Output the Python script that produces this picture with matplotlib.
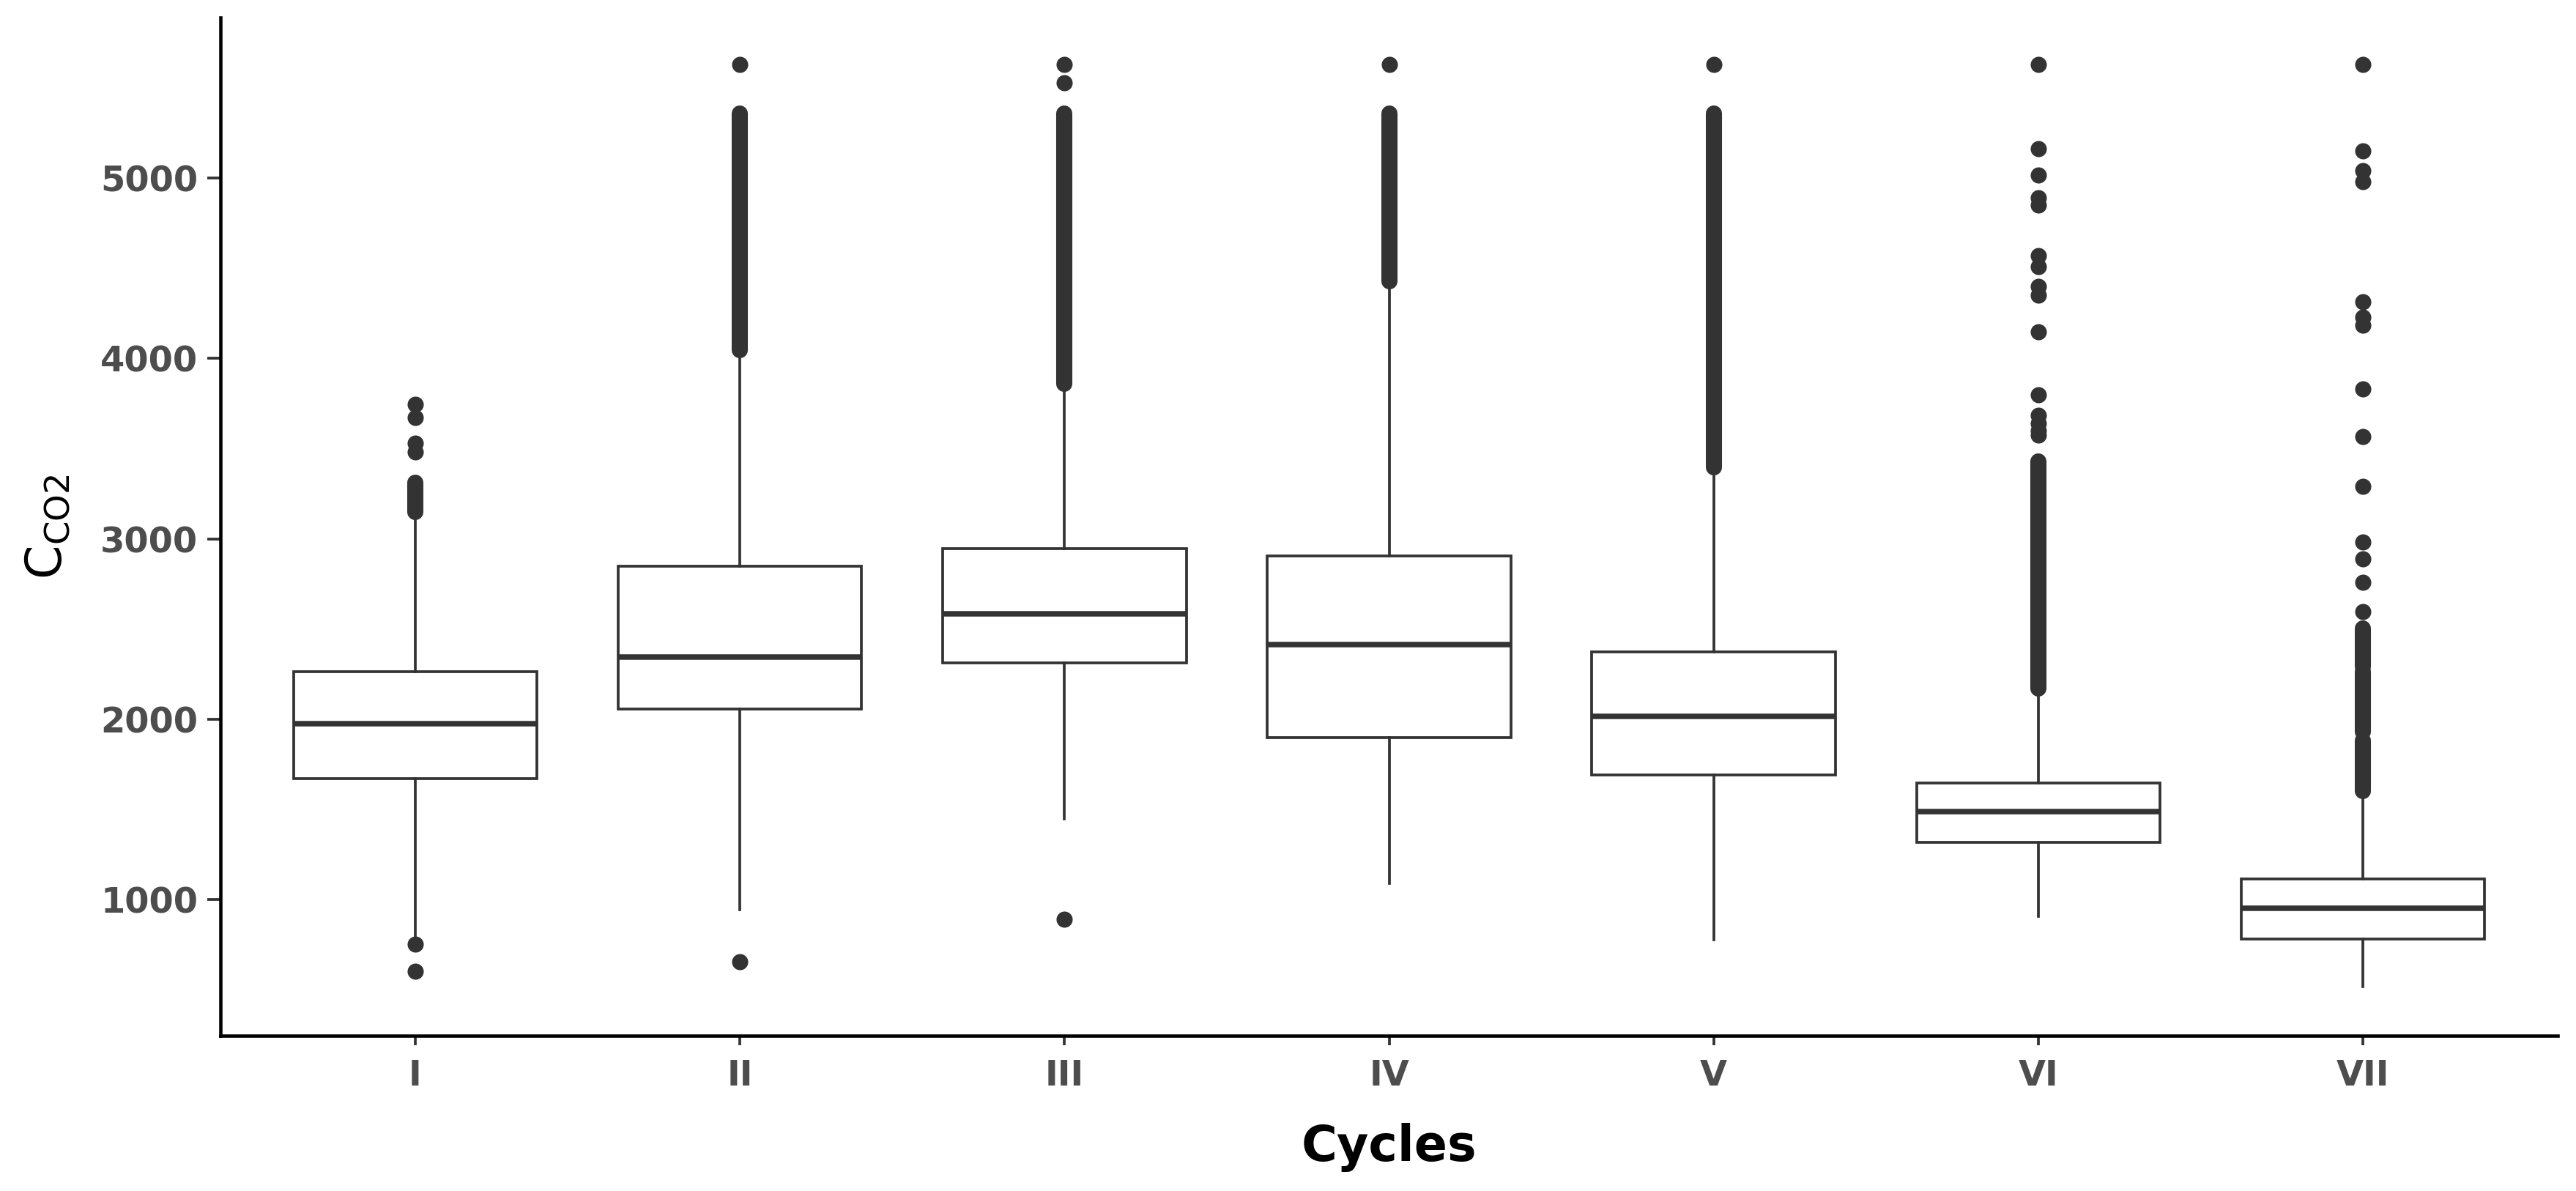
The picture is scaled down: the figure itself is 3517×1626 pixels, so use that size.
import numpy as np
import matplotlib
matplotlib.use("Agg")
import matplotlib.pyplot as plt

plt.rcParams["font.family"] = ["DejaVu Sans"]
plt.rcParams["mathtext.fontset"] = "dejavusans"
plt.rcParams["mathtext.default"] = "regular"

# box statistics
cycles = ["I", "II", "III", "IV", "V", "VI", "VII"]
q1 = [1671, 2057, 2313, 1898, 1690, 1318, 780]
med = [1976, 2345, 2585, 2415, 2015, 1489, 951]
q3 = [2262, 2850, 2947, 2905, 2373, 1648, 1113]
whislo = [789, 943, 1447, 1090, 775, 907, 516]
whishi = [3102, 4020, 3833, 4410, 3370, 2146, 1577]

# single outliers
fliers = [
    [3744, 3671, 3530, 3480, 752, 602],
    [5630, 654],
    [5630, 5528, 890],
    [5630],
    [5630],
    [5630, 5163, 5016, 4890, 4850, 4570, 4510, 4400, 4350, 4146, 3797,
     3683, 3640, 3600, 3575],
    [5630, 5150, 5040, 4980, 4313, 4230, 4183, 3833, 3565, 3289, 2984,
     2890, 2760, 2597],
]

# ranges where outliers overlap into a solid column (lo, hi)
flier_bands = [
    [(3150, 3310)],
    [(4045, 5360)],
    [(3860, 5360)],
    [(4430, 5360)],
    [(3395, 5360)],
    [(2170, 3430)],
    [(1600, 1880), (1930, 2265), (2290, 2505)],
]

yticks = [1000, 2000, 3000, 4000, 5000]

dark = "#333333"
W, H, dpi = 3517, 1626, 300
fig = plt.figure(figsize=(W / dpi, H / dpi), dpi=dpi)
ax = fig.add_axes([301 / W, 1 - 1414 / H, (3492 - 301) / W, (1414 - 24) / H])

pos = np.arange(1, len(cycles) + 1)
stats = []
for i, c in enumerate(cycles):
    stats.append(dict(label=c, q1=q1[i], med=med[i], q3=q3[i],
                      whislo=whislo[i], whishi=whishi[i], fliers=[]))

ax.bxp(stats, positions=pos, widths=0.75, showcaps=False, showfliers=False,
       patch_artist=True,
       boxprops=dict(facecolor="white", edgecolor=dark, linewidth=0.9),
       whiskerprops=dict(color=dark, linewidth=0.9),
       medianprops=dict(color=dark, linewidth=1.8, solid_capstyle="butt"))

msize = 5.3
for i, p in enumerate(pos):
    ax.plot(np.full(len(fliers[i]), p), fliers[i], "o", color=dark,
            markersize=msize, markeredgewidth=0, zorder=3)
    for lo, hi in flier_bands[i]:
        ax.vlines(p, lo, hi, colors=dark, linewidth=msize, capstyle="round",
                  zorder=3)

ax.set_xlim(0.4, 7.6)
ax.set_ylim(245, 5890)
ax.set_xticks(pos)
ax.set_xticklabels(cycles)
ax.set_yticks(yticks)

for s in ["top", "right"]:
    ax.spines[s].set_visible(False)
for s in ["left", "bottom"]:
    ax.spines[s].set_color("black")
    ax.spines[s].set_linewidth(1.1)

ax.tick_params(axis="both", colors=dark, width=0.9, labelcolor="#4D4D4D",
               labelsize=11.5)
ax.tick_params(axis="x", length=3.2, pad=4.2)
ax.tick_params(axis="y", length=4.3, pad=3.1)
for lab in ax.get_xticklabels() + ax.get_yticklabels():
    lab.set_fontweight("bold")

ax.set_xlabel("Cycles", fontsize=16, fontweight="bold", color="black")
ax.xaxis.set_label_coords(0.5, -0.0856)
ax.set_ylabel(r"$\mathrm{C}_{\mathrm{CO2}}$", fontsize=16, color="black")
ax.yaxis.set_label_coords(-0.0636, 0.5)

fig.savefig("out.png", dpi=dpi)
